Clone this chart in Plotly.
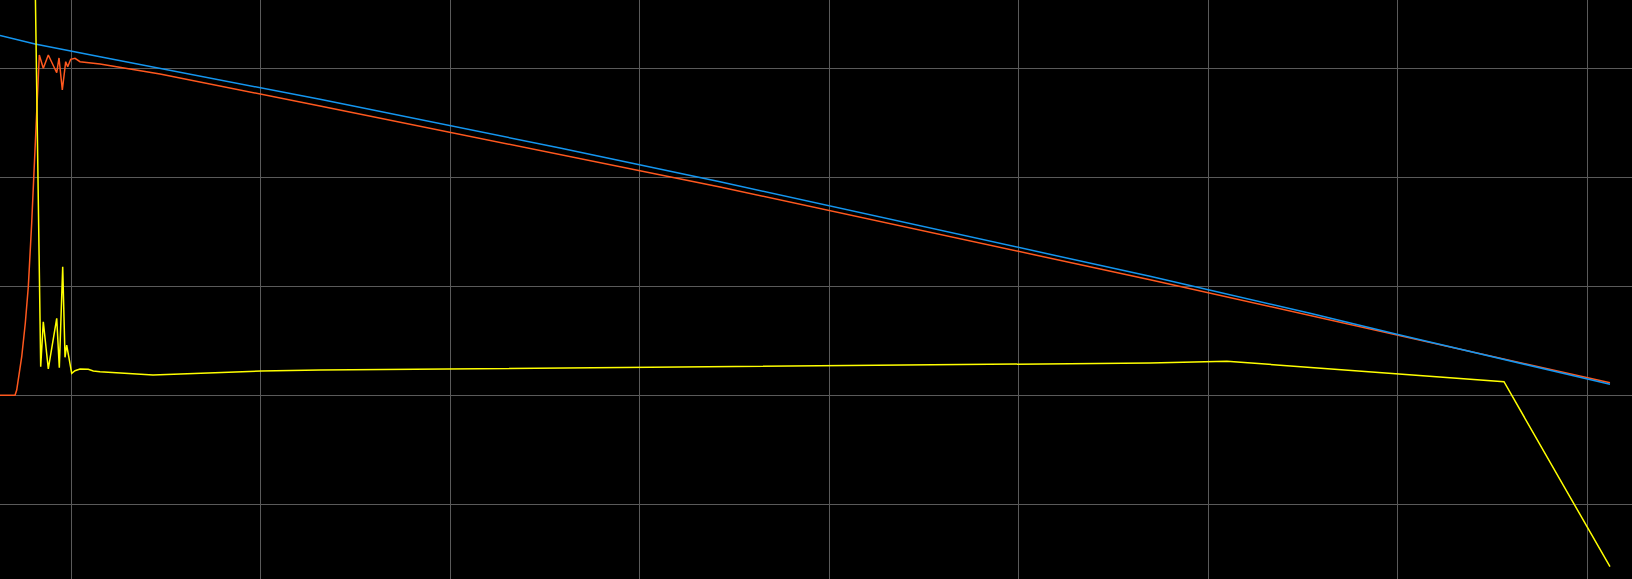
import plotly.graph_objects as go

# ---- data ----
blue_x = [0.6237, 0.8084, 1.1515, 2.3124, 3.5789, 4.4232, 6.6924, 7.5367, 8.0116, 9.1198]
blue_y = [66.02, 64.46, 62.13, 54.31, 45.38, 39.19, 21.83, 15.05, 11.06, 2.02]

orange_x = [0.6237, 0.7029, 0.7119, 0.7383, 0.7573, 0.7731, 0.7910, 0.8016, 0.8137, 0.8227,
            0.8311, 0.8522, 0.8786, 0.9230, 0.9351, 0.9525, 0.9704, 0.9810, 0.9968, 1.0195,
            1.0459, 1.1515, 1.4681, 2.3124, 3.5789, 4.4232, 6.6924, 7.5367, 8.0116, 9.1198]
orange_y = [0.0, 0.0, 0.97, 7.08, 13.27, 19.93, 31.61, 40.11, 49.96, 56.02,
            62.44, 60.0, 62.44, 59.19, 61.89, 56.02, 61.21, 60.29, 61.65, 61.83,
            61.21, 60.79, 58.95, 53.08, 44.15, 38.22, 21.21, 14.68, 10.88, 2.31]

yellow_x = [0.8032, 0.8385, 0.8522, 0.8786, 0.9230, 0.9367, 0.9546, 0.9668, 0.9757, 1.0021,
            1.0195, 1.0459, 1.0897, 1.1161, 1.1515, 1.4311, 2.0011, 2.3124, 6.6924, 7.0987,
            8.5604, 9.1198]
yellow_y = [90.88, 5.25, 13.50, 4.83, 14.13, 5.06, 23.60, 6.97, 9.23, 4.04,
            4.51, 4.83, 4.77, 4.46, 4.33, 3.72, 4.46, 4.64, 5.93, 6.24,
            2.50, -31.45]

x_range = [0.6237, 9.236]
y_range = [-33.70, 72.53]

fig = go.Figure()
fig.add_trace(go.Scatter(x=orange_x, y=orange_y, mode="lines",
                         line=dict(color="rgb(255,88,30)", width=1.5), name="orange"))
fig.add_trace(go.Scatter(x=blue_x, y=blue_y, mode="lines",
                         line=dict(color="rgb(20,150,240)", width=1.5), name="blue"))
fig.add_trace(go.Scatter(x=yellow_x, y=yellow_y, mode="lines",
                         line=dict(color="rgb(255,255,0)", width=1.5), name="yellow"))

fig.update_layout(
    width=1632, height=579,
    margin=dict(l=0, r=0, t=0, b=0),
    paper_bgcolor="black", plot_bgcolor="black",
    showlegend=False,
)
fig.update_xaxes(range=x_range, dtick=1, tick0=0, showgrid=True, gridcolor="rgb(90,90,90)",
                 gridwidth=1, zeroline=False, showticklabels=False, showline=False, ticks="")
fig.update_yaxes(range=y_range, dtick=20, tick0=0, showgrid=True, gridcolor="rgb(90,90,90)",
                 gridwidth=1, zeroline=False, showticklabels=False, showline=False, ticks="")

fig.write_html(
    "out.html",
    config={"displayModeBar": False},
    post_script="document.body.style.margin='0';document.body.style.overflow='hidden';"
                "document.body.style.background='black';",
)
